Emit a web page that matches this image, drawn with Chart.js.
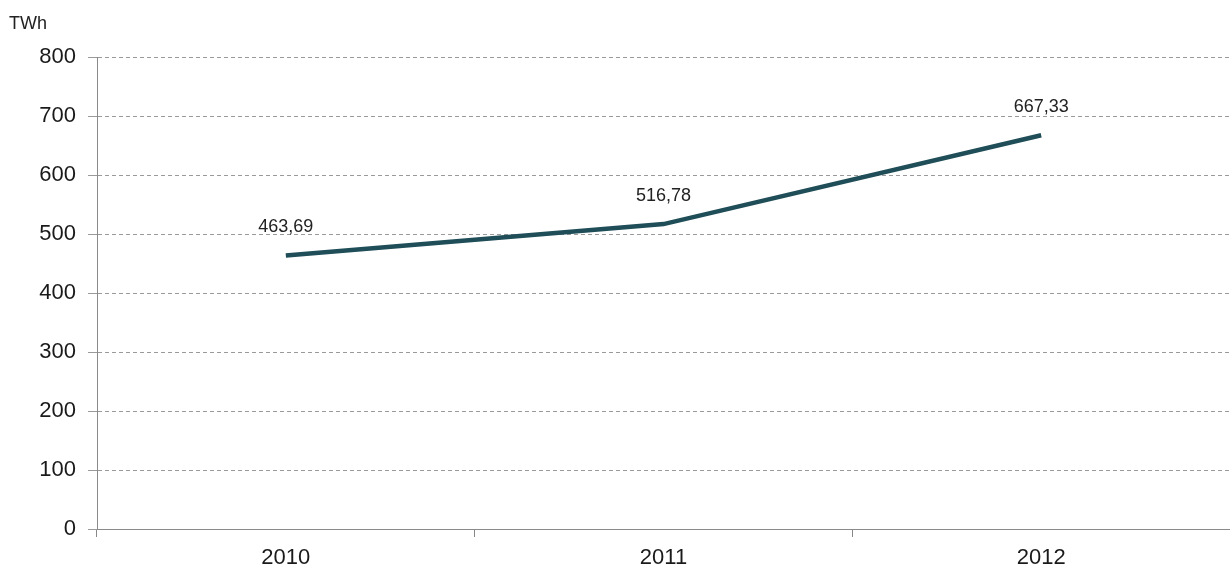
<!DOCTYPE html>
<html>
<head>
<meta charset="utf-8">
<script src="https://cdn.jsdelivr.net/npm/chart.js@4/dist/chart.umd.min.js"></script>
<style>
  body { margin: 0; background: #fff; }
  #wrap { width: 1230px; height: 569px; }
</style>
</head>
<body>
<div id="wrap"><canvas id="chart" width="1230" height="569"></canvas></div>
<script>
/* Dados do gráfico */
const anos = ["2010", "2011", "2012"];
const valores = [463.69, 516.78, 667.33];
const rotulos = ["463,69", "516,78", "667,33"];
const unidade = "TWh";

const fonte = "'Liberation Sans', Arial, sans-serif";

/* Desenha os rótulos de valor e a unidade do eixo */
const rotulosPlugin = {
    id: "rotulos",
    afterDatasetsDraw(chart) {
        const ctx = chart.ctx;
        const meta = chart.getDatasetMeta(0);
        ctx.save();
        ctx.font = "18px " + fonte;
        ctx.fillStyle = "#222";
        ctx.textAlign = "center";
        ctx.textBaseline = "middle";
        meta.data.forEach((pt, i) => {
            ctx.fillText(rotulos[i], pt.x, pt.y - 28);
        });
        // Unidade no topo do eixo
        ctx.textAlign = "left";
        ctx.fillText(unidade, 9, 24);
        ctx.restore();
    }
};

new Chart(document.getElementById("chart").getContext("2d"), {
    type: "line",
    data: {
        labels: anos,
        datasets: [{
            data: valores,
            borderColor: "#1f4d58",
            borderWidth: 4.5,
            pointRadius: 0,
            tension: 0,
            fill: false
        }]
    },
    options: {
        responsive: false,
        animation: false,
        layout: { padding: { top: 57, right: 0, left: 0, bottom: 0 } },
        plugins: { legend: { display: false }, tooltip: { enabled: false } },
        scales: {
            x: {
                offset: true,
                grid: {
                    offset: true,
                    drawOnChartArea: false,
                    drawTicks: true,
                    tickLength: 8,
                    color: "#888"
                },
                border: { color: "#8a8a8a", width: 1 },
                ticks: {
                    color: "#1a1a1a",
                    padding: 8,
                    font: { family: fonte, size: 22 }
                },
                afterFit(scale) { scale.height = 40; }
            },
            y: {
                min: 0,
                max: 800,
                ticks: {
                    stepSize: 100,
                    color: "#1a1a1a",
                    padding: 12,
                    font: { family: fonte, size: 22 }
                },
                grid: {
                    color: "#9a9a9a",
                    lineWidth: 1,
                    tickLength: 9
                },
                border: { color: "#8a8a8a", width: 1, dash: [4, 3] },
                afterFit(scale) { scale.width = 97; }
            }
        }
    },
    plugins: [rotulosPlugin]
});
</script>
</body>
</html>
